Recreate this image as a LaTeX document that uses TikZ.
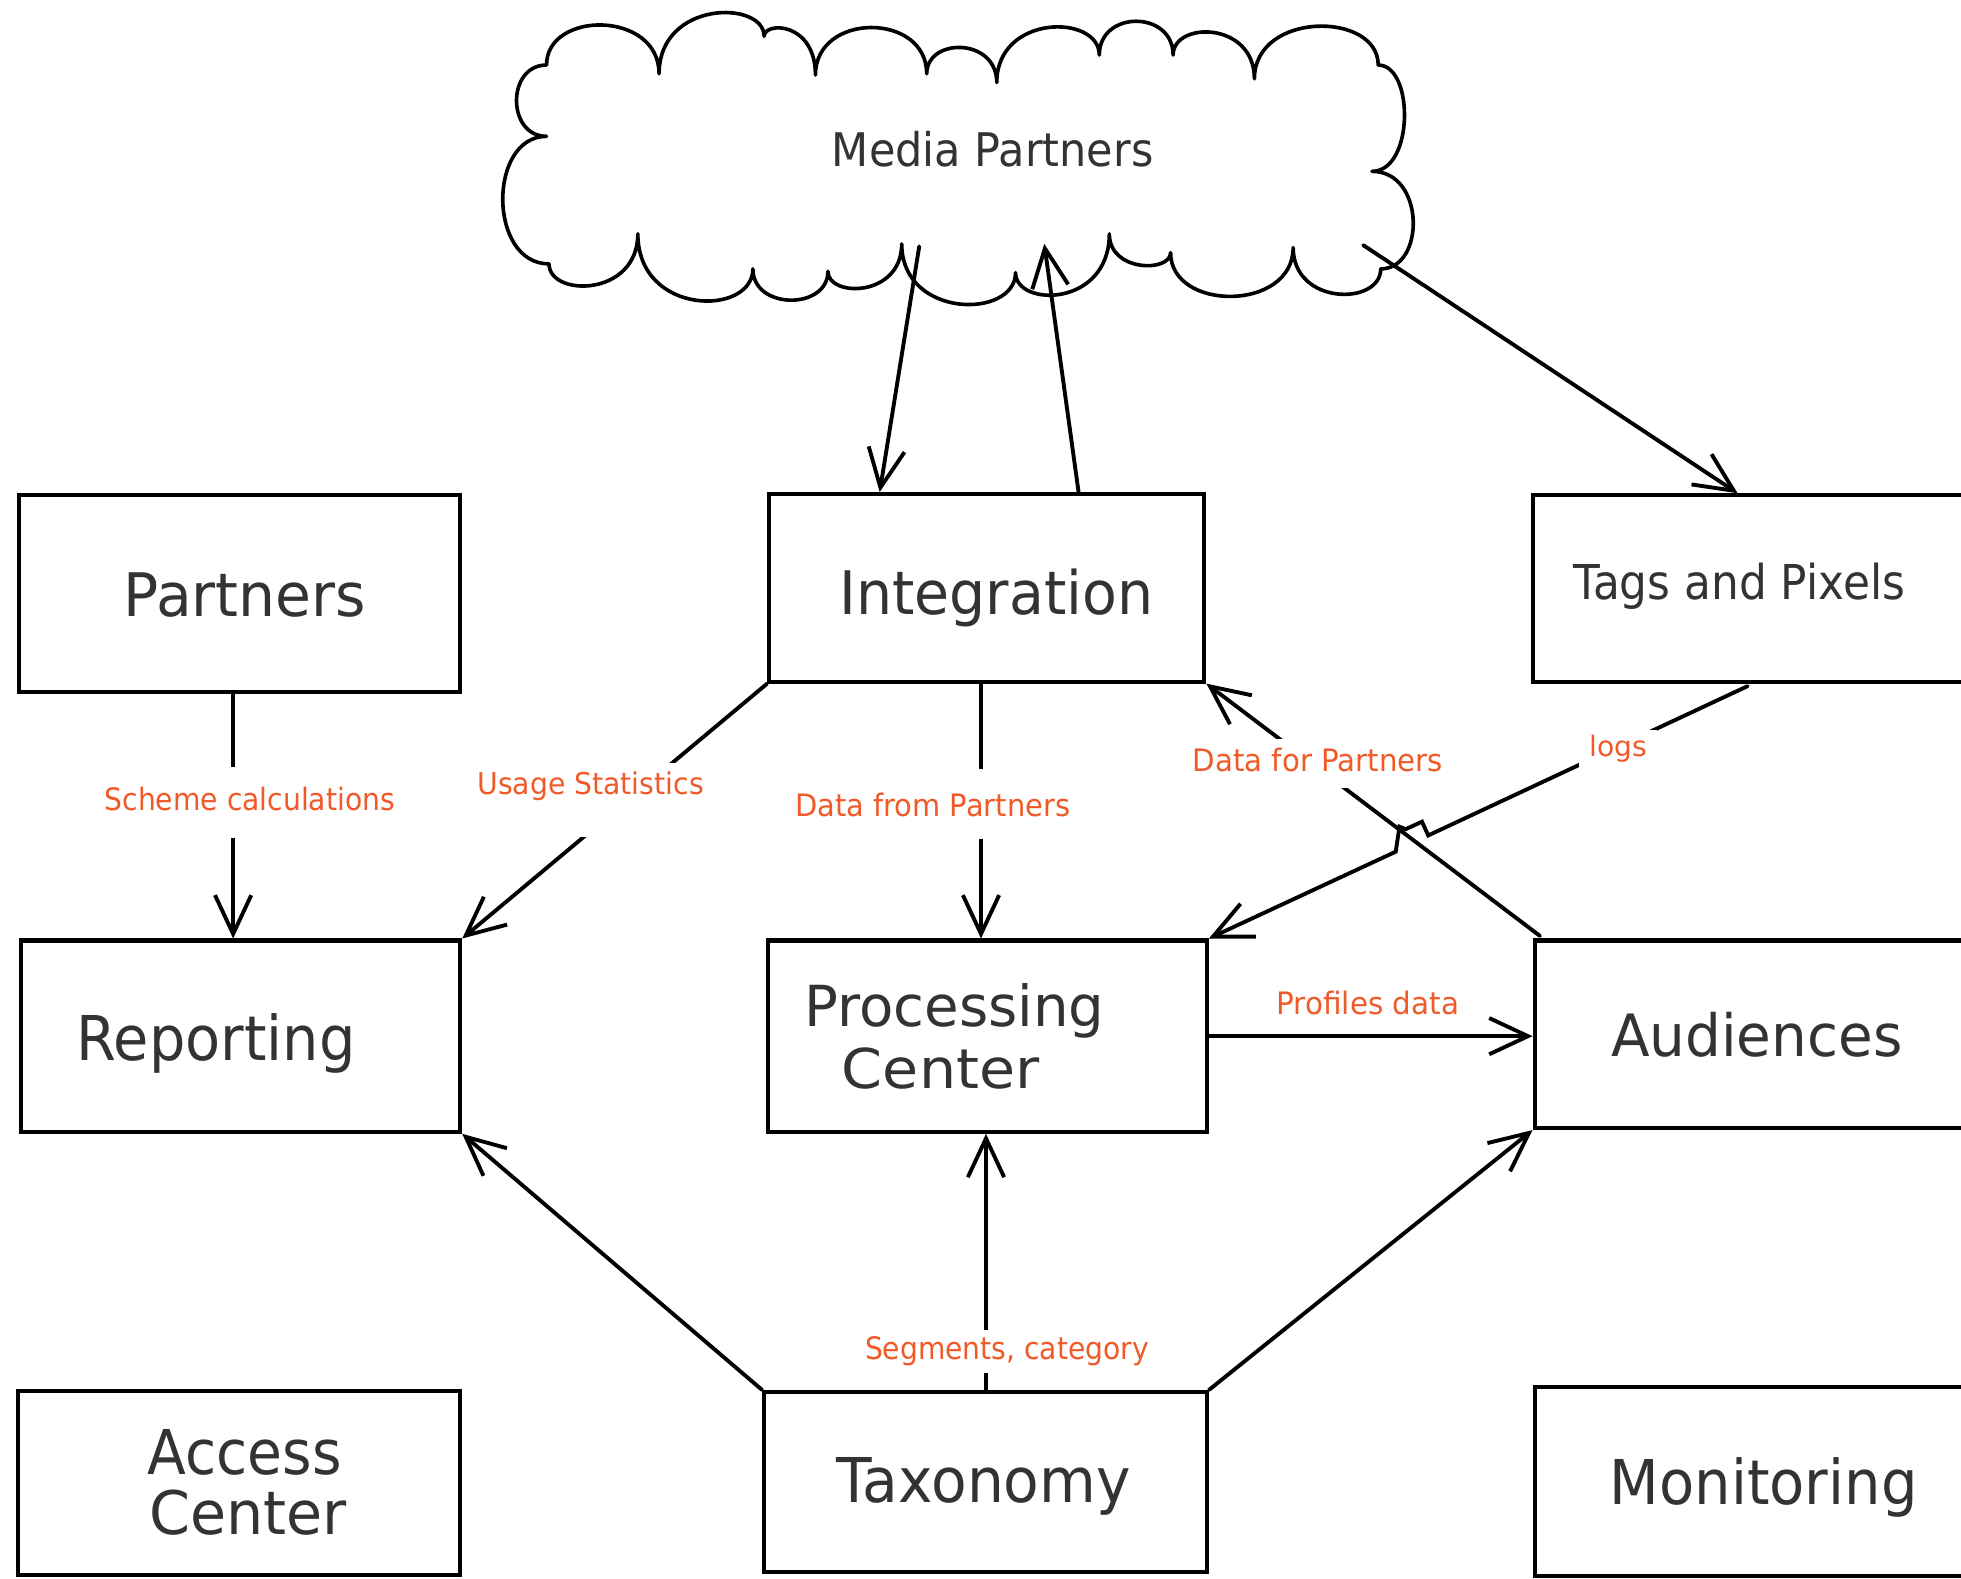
\documentclass[tikz,border=0pt]{standalone}
\usepackage{fontspec}
\setmainfont{DejaVu Sans}
\usepackage{graphicx}
\usetikzlibrary{arrows.meta,calc}
\definecolor{txt}{RGB}{51,51,51}
\definecolor{orng}{RGB}{240,90,40}
\newcommand\Tx[3]{\resizebox{#1pt}{#2pt}{\smash{#3}\vphantom{H}}}
\begin{document}
\begin{tikzpicture}[x=1pt,y=-1pt,
  box/.style={draw, line width=3.2pt, inner sep=0pt},
  conn/.style={line width=3.1pt, line cap=round, -{Straight Barb[length=31pt,width=29pt]}},
  ttl/.style={anchor=base west, inner sep=0pt, text=txt},
  lbl/.style={anchor=base west, inner xsep=6pt, inner ysep=0pt, fill=white, text=orng}]
\useasboundingbox (0,0) rectangle (1568,1262);
\clip (0,0) rectangle (1568,1262);

% boxes
\node[box, minimum width=353pt, minimum height=157pt] (partners) at (191.5,474.5) {};
\node[box, minimum width=348pt, minimum height=150pt] (integ) at (789,470) {};
\node[box, minimum width=374pt, minimum height=149pt] (tags) at (1413,470.5) {};
\node[box, minimum width=351pt, minimum height=153pt] (report) at (192.5,828.5) {};
\node[box, minimum width=351pt, minimum height=153pt] (proc) at (789.5,828.5) {};
\node[box, minimum width=373pt, minimum height=150pt] (aud) at (1413.5,827) {};
\node[box, minimum width=354pt, minimum height=147pt] (access) at (191,1185.5) {};
\node[box, minimum width=354pt, minimum height=144pt] (taxo) at (788,1185) {};
\node[box, minimum width=373pt, minimum height=151pt] (monit) at (1413.5,1184.5) {};

% cloud
\draw[line width=2.9pt, line join=round] (437,52)
 .. controls (437,8.17) and (527,8.17) .. (527,59)
 .. controls (527,0) and (611,0) .. (611,29)
 .. controls (611,17.17) and (652,17.17) .. (652,60)
 .. controls (652,9.5) and (741,9.5) .. (741,59)
 .. controls (741,29.83) and (797,29.83) .. (797,66)
 .. controls (797,11) and (879,11) .. (879,44)
 .. controls (879,8) and (938,8) .. (938,44)
 .. controls (938,16.83) and (1003,16.83) .. (1003,63)
 .. controls (1003,8.83) and (1102,8.83) .. (1102,52)
 .. controls (1130.8,52) and (1130.8,137) .. (1097,137)
 .. controls (1139.8,137) and (1139.8,215) .. (1104,215)
 .. controls (1104,244.5) and (1034,244.5) .. (1034,198)
 .. controls (1034,249.33) and (936,249.33) .. (936,202)
 .. controls (936,217.83) and (887,217.83) .. (887,187)
 .. controls (887,245.83) and (812,245.83) .. (812,218)
 .. controls (812,255.17) and (721,255.17) .. (721,195)
 .. controls (721,238) and (662,238) .. (662,217)
 .. controls (662,248) and (602,248) .. (602,215)
 .. controls (602,253) and (510,253) .. (510,187)
 .. controls (510,237.67) and (439,237.67) .. (439,211)
 .. controls (390,211) and (390,109) .. (437,109)
 .. controls (405,109) and (405,52) .. (437,52) -- cycle;
\node[ttl] (cloud) at (665,133) {\Tx{257}{27}{Media Partners}};
\coordinate (cA) at (735,197);
\coordinate (cB) at (835,195);
\coordinate (cC) at (1090,196);
\coordinate (jA) at (1142,668);
\coordinate (jB) at (1116,681);

% connectors
\draw[conn] (cA) -- ($(integ.north west)+(90,0)$);
\draw[conn] ($(integ.north west)+(249,0)$) -- (cB);
\draw[conn] (cC) -- ($(tags.north west)+(165,0)$);
\draw[conn] ($(partners.south west)+(173,0)$) -- ($(report.north west)+(171,0)$);
\draw[conn] (integ.south west) -- (report.north east);
\draw[conn] ($(integ.south west)+(171,0)$) -- ($(proc.north west)+(172,0)$);
\draw[conn] ($(aud.north west)+(6,-2)$) -- (integ.south east);
\draw[conn] ($(tags.south west)+(173,2)$) -- (jA) -- (1137,657) -- (1124,663) -- (1119,661) -- (jB) -- (proc.north east);
\draw[conn] (proc.east) -- (proc.east -| aud.west);
\draw[conn] (taxo.north west) -- (report.south east);
\draw[conn] ($(taxo.north west)+(179,0)$) -- ($(proc.south west)+(176,0)$);
\draw[conn] (taxo.north east) -- (aud.south west);

% box titles
\node[ttl] (partners-t) at (98.5,493) {\Tx{194}{35}{Partners}};
\node[ttl] (integ-t) at (671,491) {\Tx{251}{35}{Integration}};
\node[ttl] (tags-t) at (1258,479) {\Tx{265}{28}{Tags and Pixels}};
\node[ttl] (report-t) at (61,848) {\Tx{223}{36}{Reporting}};
\node[ttl] (proc-t1) at (643,821) {\Tx{240}{33}{Processing}};
\node[ttl] (proc-t2) at (673,870) {\Tx{158}{32}{Center}};
\node[ttl] (aud-t) at (1288,845) {\Tx{233}{34}{Audiences}};
\node[ttl] (access-t1) at (118,1179) {\Tx{155}{36}{Access}};
\node[ttl] (access-t2) at (119,1227) {\Tx{158}{35}{Center}};
\node[ttl] (taxo-t) at (669,1201) {\Tx{235}{36}{Taxonomy}};
\node[ttl] (monit-t) at (1287,1203) {\Tx{246}{36}{Monitoring}};

% connector labels
\node[lbl, text height=35pt, text depth=22pt] (l-scheme) at (77.5,648) {\Tx{232}{18}{Scheme calculations}};
\node[lbl, text height=25.5pt, text depth=33.5pt] (l-usage) at (375.5,635.5) {\Tx{181}{17.5}{Usage Statistics}};
\node[lbl, text height=38pt, text depth=18pt] (l-from) at (629.5,653) {\Tx{220}{18}{Data from Partners}};
\node[lbl, text height=26pt, text depth=13pt] (l-for) at (947.5,617) {\Tx{200}{18}{Data for Partners}};
\node[lbl, inner xsep=8pt, text height=21pt, text depth=8pt] (l-logs) at (1262.5,605) {\Tx{46}{16.3}{logs}};
\node[lbl, fill=none] (l-prof) at (1014.5,811.5) {\Tx{146}{18}{Profiles data}};
\node[lbl, text height=23.5pt, text depth=10.5pt] (l-seg) at (685.5,1087) {\Tx{227}{18}{Segments, category}};
\end{tikzpicture}
\end{document}
